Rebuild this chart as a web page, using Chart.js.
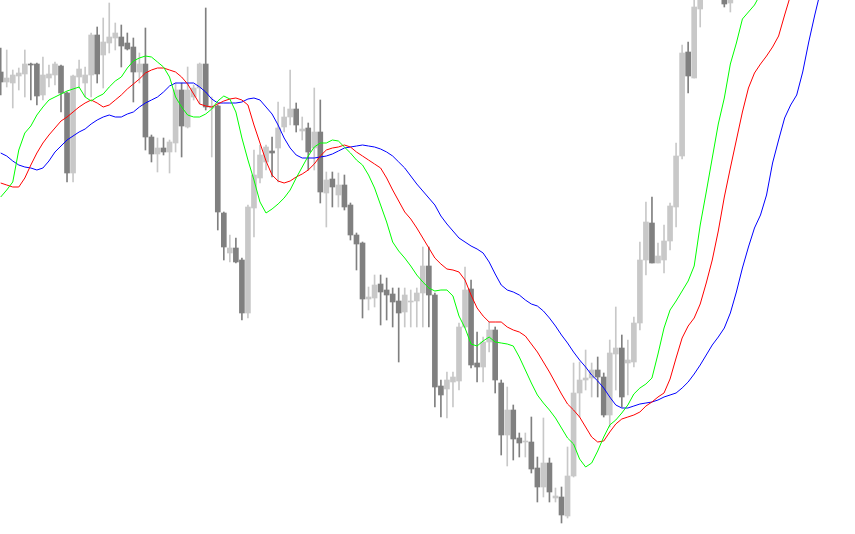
<!DOCTYPE html>
<html>
<head>
<meta charset="utf-8">
<title>Candles with Alligator lines</title>
<script src="https://cdn.jsdelivr.net/npm/chart.js"></script>
<style>
    html, body { margin: 0; padding: 0; background: #ffffff; }
    .chart-box { width: 855px; height: 534px; position: relative; }
</style>
</head>
<body>
<div class="chart-box"><canvas id="chart"></canvas></div>
<script>
// Price data (in points), one entry per bar; null = bar above the visible window
const opens = [
    462,452,451,458,460,470,470,439,456,459,
    468,441,361,457,451,459,499,479,491,496,
    497,491,487,462,470,397,380,386,382,391,
    444,407,437,446,470,426,428,321,281,286,
    274,221,326,356,372,383,386,407,417,425,
    403,406,386,402,341,355,339,349,329,299,
    291,235,236,250,244,240,233,222,232,233,
    241,268,239,148,145,152,153,207,245,171,
    167,192,204,151,99,124,96,92,92,66,
    47,71,36,37,18,58,141,154,156,164,
    157,119,180,186,171,172,211,274,311,271,
    274,293,327,378,482,456,525,null,null,null,
    542,531
];
const highs = [
    486,484,464,466,484,471,471,477,469,472,
    469,442,459,474,467,501,507,516,531,511,
    509,501,496,481,506,399,396,396,394,451,
    451,467,449,471,526,437,429,322,299,296,
    276,329,384,389,389,397,432,427,464,431,
    417,411,446,434,362,362,361,359,331,301,
    292,247,259,259,256,246,246,246,244,246,
    287,287,241,154,162,162,211,267,254,202,
    197,212,207,154,147,129,101,101,117,77,
    116,76,46,47,87,171,172,184,171,177,
    161,194,227,199,194,217,292,332,337,291,
    309,331,391,489,492,537,554,null,null,null,
    546,549
];
const lows = [
    439,447,426,444,437,434,429,434,447,449,
    422,352,352,446,437,437,451,446,481,484,
    467,484,432,451,384,372,362,379,361,382,
    377,406,434,430,424,377,304,274,272,271,
    214,216,297,351,364,357,352,402,409,402,
    394,364,364,331,307,327,327,324,294,264,
    216,224,227,209,214,207,172,207,207,207,
    207,207,127,117,116,127,144,206,166,152,
    152,182,141,79,68,74,77,77,61,32,
    37,32,32,11,16,57,117,144,137,137,
    117,107,144,127,139,167,204,259,271,271,
    261,284,307,375,441,456,507,null,null,null,
    527,522
];
const closes = [
    452,456,459,461,470,469,438,459,460,470,
    441,361,458,465,459,499,460,492,497,501,
    488,485,462,470,397,380,386,382,392,444,
    408,444,446,470,427,428,322,287,286,272,
    221,327,359,379,387,381,406,417,425,409,
    405,382,402,342,354,347,349,327,299,290,
    235,237,249,242,239,232,221,239,233,241,
    268,239,147,139,154,157,207,244,169,167,
    192,204,154,99,124,95,91,93,65,47,
    71,42,38,19,58,141,154,156,164,157,
    119,181,186,137,174,211,274,312,271,278,
    293,328,378,481,458,527,549,null,null,null,
    530,544
];

// Alligator lines, read per bar (they run past the last bar because of their shift)
const jaw = [
    381,378,373,369,367,366,364,366,373,382,
    388,394,398,402,405,410,414,417,419,417,
    417,420,422,427,431,434,437,442,448,451,
    451,451,451,447,442,435,431,431,431,431,
    432,435,436,434,427,420,409,396,386,379,
    376,376,376,377,378,380,383,386,387,388,
    389,388,387,385,382,378,372,366,358,350,
    343,336,329,318,310,303,296,292,288,285,
    281,272,260,249,244,242,239,234,230,228,
    223,216,208,199,191,182,174,167,159,153,
    146,137,129,126,126,128,130,131,132,134,
    137,139,141,146,152,160,169,179,189,197,
    206,221,242,266,287,306,319,339,371,394,
    416,429,439,462,492,519,544
];
const teeth = [
    351,349,347,347,356,369,381,391,399,406,
    413,417,422,427,431,434,431,427,429,434,
    439,445,450,455,461,464,466,466,464,462,
    457,450,440,430,428,427,430,433,435,436,
    434,429,409,391,373,359,353,351,353,357,
    360,364,370,378,384,386,387,389,387,382,
    378,374,370,366,356,344,333,322,315,306,
    296,286,276,270,265,264,262,254,239,226,
    218,212,212,212,207,204,202,198,190,182,
    172,162,151,140,130,124,117,107,97,92,
    93,102,110,115,117,119,122,128,132,137,
    141,155,176,196,208,216,230,251,274,303,
    337,366,394,422,446,461,470,478,487,498,
    519,539
];
const lips = [
    337,344,352,384,401,408,419,427,434,437,
    440,443,445,447,437,433,437,440,447,453,
    457,466,473,476,478,477,472,467,457,437,
    427,419,417,417,420,425,433,438,435,422,
    396,374,354,332,321,325,330,336,344,356,
    367,378,387,391,391,394,393,387,381,374,
    369,359,346,329,312,292,283,276,268,259,
    252,246,243,244,244,238,218,206,190,188,
    193,197,192,191,190,188,177,164,151,139,
    131,124,116,106,96,90,75,67,71,83,
    97,109,114,121,129,140,146,150,156,180,
    206,224,233,243,253,268,309,342,376,410,
    436,470,491,515,522,529,540
];

const UP = '#c8c8c8';
const DOWN = '#808080';

const bodies = [];
const wicks = [];
const candleColors = [];
opens.forEach((o, i) => {
    if (o === null) return;
    bodies.push({ x: i, y: [o, closes[i]] });
    wicks.push({ x: i, y: [lows[i], highs[i]] });
    candleColors.push(closes[i] >= o ? UP : DOWN);
});

const toPoints = arr => arr.map((v, i) => ({ x: i, y: v }));

function lineSet(label, data, color) {
    return {
        type: 'line',
        label: label,
        data: toPoints(data),
        borderColor: color,
        borderWidth: 1,
        pointRadius: 0,
        tension: 0,
        fill: false
    };
}

new Chart(document.getElementById('chart'), {
    type: 'bar',
    data: {
        datasets: [
            lineSet('Lips', lips, '#00ff00'),
            lineSet('Teeth', teeth, '#ff0000'),
            lineSet('Jaw', jaw, '#0000ff'),
            {
                label: 'Body',
                data: bodies,
                backgroundColor: candleColors,
                borderWidth: 0,
                barThickness: 5,
                minBarLength: 1,
                grouped: false
            },
            {
                label: 'Wick',
                data: wicks,
                backgroundColor: candleColors,
                borderWidth: 0,
                barThickness: 1,
                grouped: false
            }
        ]
    },
    options: {
        responsive: true,
        maintainAspectRatio: false,
        animation: false,
        devicePixelRatio: 1,
        layout: { padding: 0 },
        plugins: {
            legend: { display: false },
            tooltip: { enabled: false }
        },
        scales: {
            x: { type: 'linear', display: false, offset: false, min: -0.116, max: 141.67 },
            y: { display: false, min: 0, max: 534 }
        }
    }
});
</script>
</body>
</html>
